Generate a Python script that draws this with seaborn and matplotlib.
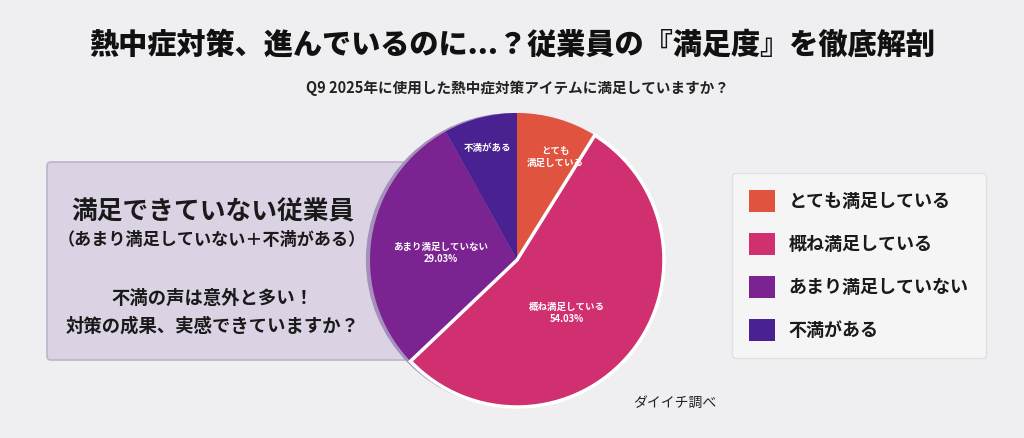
import matplotlib
matplotlib.use("Agg")
import matplotlib.pyplot as plt
import seaborn as sns
from matplotlib.patches import FancyBboxPatch, Circle

sns.set_theme(style="white")
plt.rcParams['font.family'] = ['Noto Sans CJK JP', 'DejaVu Sans']

# Data
categories = ["とても満足している", "概ね満足している", "あまり満足していない", "不満がある"]
counts = [11, 67, 36, 10]
inner_labels = ["とても\n満足している", "概ね満足している\n54.03%", "あまり満足していない\n29.03%", "不満がある"]
colors = ["#E0533F", "#D0306F", "#7B2390", "#4A2190"]

title = "熱中症対策、進んでいるのに...？従業員の『満足度』を徹底解剖"
subtitle = "Q9 2025年に使用した熱中症対策アイテムに満足していますか？"
box_head = "満足できていない従業員"
box_sub = "（あまり満足していない＋不満がある）"
box_msg = "不満の声は意外と多い！\n対策の成果、実感できていますか？"
source = "ダイイチ調べ"

W, H = 1024, 438
fig = plt.figure(figsize=(W / 100, H / 100), dpi=100, facecolor="#efeff1")

def fx(px):
    return px / W

def fy(py):
    return 1 - py / H

# Background axes for the message box (behind pie)
bg = fig.add_axes([0, 0, 1, 1], zorder=0)
bg.set_xlim(0, W)
bg.set_ylim(H, 0)
bg.axis("off")
bg.add_patch(FancyBboxPatch((47, 162), 420, 198,
                            boxstyle="round,pad=0,rounding_size=4",
                            facecolor="#dbd2e3", edgecolor="#bfb2cc", linewidth=1.2))

# Pie axes
cx, cy, r = 517, 260, 147
ax = fig.add_axes([fx(cx - r), fy(cy + r), 2 * r / W, 2 * r / H], zorder=1)
ax.set_facecolor("none")
ax.add_patch(Circle((-0.028, 0.0), 1.0, facecolor="#a48fbd", edgecolor="none", zorder=0, clip_on=False))
wedges, texts = ax.pie(counts, colors=colors, startangle=90, counterclock=False,
                       labels=inner_labels, labeldistance=None,
                       wedgeprops=dict(linewidth=0))
for w in wedges:
    w.set_zorder(2)
    w.set_clip_on(False)
wedges[1].set_edgecolor("white")
wedges[1].set_linewidth(2.5)
wedges[1].set_zorder(3)

label_pos = [(0.26, 0.70), (0.34, -0.36), (-0.52, 0.05), (-0.20, 0.76)]
for (x, y), t in zip(label_pos, inner_labels):
    ax.text(x, y, t, ha="center", va="center", color="white", fontsize=6.8,
            fontweight="bold", linespacing=1.25, zorder=5)
ax.set_xlim(-1.0, 1.0)
ax.set_ylim(-1.0, 1.0)
ax.set_aspect("equal")
ax.axis("off")

# Titles
fig.text(0.5, fy(45), title, ha="center", va="center", fontsize=21, fontweight="heavy", color="#111111")
fig.text(0.505, fy(88), subtitle, ha="center", va="center", fontsize=10.5, fontweight="bold", color="#222222")

# Box text
fig.text(fx(213), fy(212), box_head, ha="center", va="center", fontsize=18.5, fontweight="bold", color="#1a1a1a", zorder=5)
fig.text(fx(212), fy(240), box_sub, ha="center", va="center", fontsize=12.3, fontweight="bold", color="#1a1a1a", zorder=5)
fig.text(fx(213), fy(312), box_msg, ha="center", va="center", fontsize=13.2, fontweight="bold",
         color="#1a1a1a", linespacing=1.55, zorder=5)

# Source
fig.text(fx(675), fy(403), source, ha="center", va="center", fontsize=10, color="#222222")

# Legend
leg = fig.legend(wedges, categories, loc="upper left", bbox_to_anchor=(fx(732), fy(173)),
                 frameon=True, fancybox=True, fontsize=13, handlelength=1.45, handleheight=1.45,
                 labelspacing=1.2, handletextpad=0.75, borderpad=0.95, borderaxespad=0)
leg.set_zorder(6)
leg.get_frame().set_facecolor("#f7f7f8")
leg.get_frame().set_edgecolor("#dcdce0")
leg.get_frame().set_linewidth(1.0)
for h in leg.legend_handles:
    h.set_edgecolor("none")
    h.set_linewidth(0)
for t in leg.get_texts():
    t.set_fontweight("bold")
    t.set_color("#1a1a1a")

fig.savefig("out.png", dpi=100, facecolor=fig.get_facecolor())
